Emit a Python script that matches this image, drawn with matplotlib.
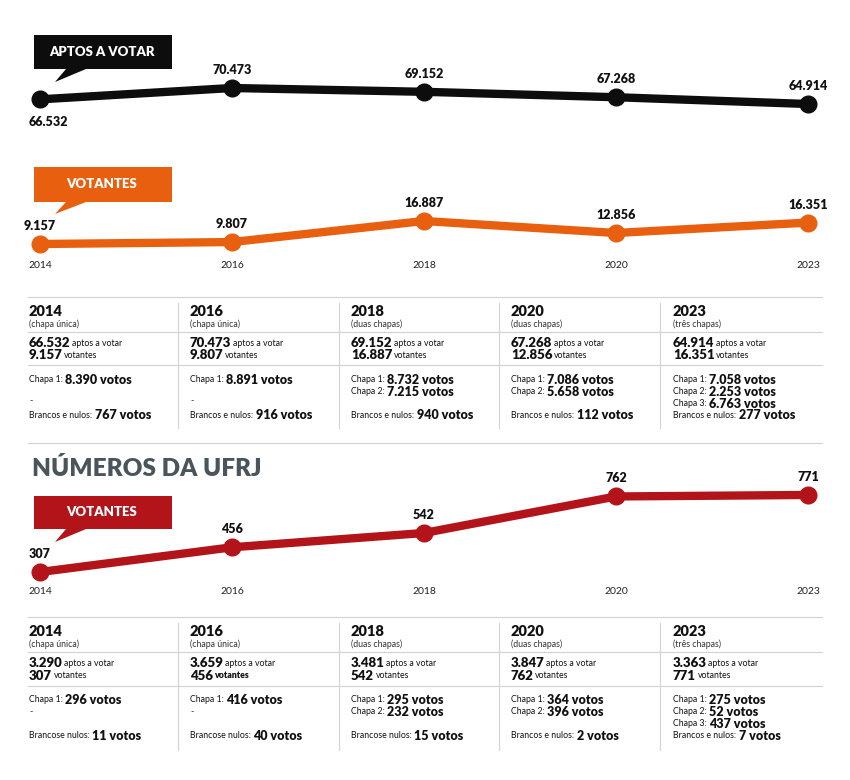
import matplotlib.pyplot as plt
from matplotlib.patches import Polygon

# === Data ===
years = ["2014", "2016", "2018", "2020", "2023"]
aptos = [66532, 70473, 69152, 67268, 64914]
votantes = [9157, 9807, 16887, 12856, 16351]
chapas_desc = ["(chapa única)", "(chapa única)", "(duas chapas)", "(duas chapas)", "(três chapas)"]
votos_chapas = [[8390], [8891], [8732, 7215], [7086, 5658], [7058, 2253, 6763]]
brancos_nulos = [767, 916, 940, 112, 277]

ufrj_aptos = [3290, 3659, 3481, 3847, 3363]
ufrj_votantes = [307, 456, 542, 762, 771]
ufrj_votos_chapas = [[296], [416], [295, 232], [364, 396], [275, 52, 437]]
ufrj_brancos_nulos = [11, 40, 15, 2, 7]
ufrj_brancos_label = ["Brancose nulos:", "Brancose nulos:", "Brancose nulos:",
                      "Brancos e nulos:", "Brancos e nulos:"]

# === Style ===
W, H = 850, 780
FONT = "Lato"
BLACK = "#0d0d0d"
ORANGE = "#e8600f"
RED = "#b3141a"
SLATE = "#4a555b"
GRID = "#d2d2d2"

plt.rcParams["font.family"] = [FONT, "DejaVu Sans"]

fig = plt.figure(figsize=(W / 100, H / 100), dpi=100)
ax0 = fig.add_axes([0, 0, 1, 1])
ax0.set_xlim(0, W)
ax0.set_ylim(H, 0)
ax0.axis("off")


def fmt(v):
    return f"{v:,}".replace(",", ".")


def px_axes(top, bottom, left=40, right=808):
    return fig.add_axes([left / W, 1 - bottom / H, (right - left) / W, (bottom - top) / H])


def line_chart(top, bottom, vmin, vmax, values, color, first_below=False, year_gap=None):
    ax = px_axes(top, bottom)
    x = list(range(len(values)))
    ax.plot(x, values, color=color, lw=6, marker="o", ms=12,
            solid_capstyle="round", clip_on=False, zorder=3)
    ax.set_xlim(0, len(values) - 1)
    ax.set_ylim(vmin, vmax)
    ax.axis("off")
    for i, v in enumerate(values):
        off = (6, -16) if (first_below and i == 0) else (0, 13)
        ax.annotate(fmt(v), (i, v), xytext=off, textcoords="offset points",
                    ha="center", va="center", fontsize=9, fontweight="heavy", color="#111")
    if year_gap is not None:
        for i, y in enumerate(years):
            ax.annotate(y, (i, 0), xycoords=ax.get_xaxis_transform(), xytext=(0, -year_gap),
                        textcoords="offset points", ha="center", va="center",
                        fontsize=7.5, color="#222")
    return ax


def callout(top, bottom, color, label, tip_y):
    pts = [(34, top), (172, top), (172, bottom), (86, bottom), (55, tip_y),
           (66, bottom), (34, bottom)]
    ax0.add_patch(Polygon(pts, closed=True, facecolor=color, edgecolor="none"))
    ax0.text(102, (top + bottom) / 2, label, ha="center", va="center",
             color="white", fontsize=9.5, fontweight="heavy")


def pair(x, y, first, second, bold_first, size_b=9, size_r=6.3, gap=2.5, second_bold=False):
    renderer = fig.canvas.get_renderer()
    w1 = "heavy" if bold_first else "normal"
    s1 = size_b if bold_first else size_r
    t1 = ax0.text(x, y, first, ha="left", va="center", fontsize=s1, fontweight=w1, color="#111")
    bb = t1.get_window_extent(renderer)
    x2 = ax0.transData.inverted().transform((bb.x1, bb.y0))[0] + gap
    w2 = "normal" if bold_first and not second_bold else "heavy"
    s2 = size_r if bold_first else size_b
    ax0.text(x2, y, second, ha="left", va="center", fontsize=s2, fontweight=w2, color="#111")


def table(rows, hlines, vspan, apt, vot, chapas, brancos, brancos_lbl, vot_bold=None):
    col_x = [29, 190, 351, 511, 673]
    for y in hlines:
        ax0.plot([28, 822], [y, y], color=GRID, lw=0.8)
    for x in [178, 339, 499, 660]:
        ax0.plot([x, x], vspan, color=GRID, lw=0.8)
    for i, x in enumerate(col_x):
        ax0.text(x, rows["year"], years[i], ha="left", va="center",
                 fontsize=10.5, fontweight="heavy", color="#111")
        ax0.text(x, rows["sub"], chapas_desc[i], ha="left", va="center",
                 fontsize=6.3, color="#333")
        pair(x, rows["aptos"], fmt(apt[i]), "aptos a votar", True, size_b=9.5, gap=1.5)
        sb = bool(vot_bold and vot_bold[i])
        pair(x, rows["vot"], fmt(vot[i]), "votantes", True, size_b=9.5, gap=1.5, second_bold=sb)
        for k, c in enumerate(chapas[i]):
            pair(x, rows["chapa"] + k * rows["step"], f"Chapa {k + 1}:", f"{fmt(c)} votos", False)
        if len(chapas[i]) == 1:
            ax0.text(x, rows["dash"], "-", ha="left", va="center", fontsize=6.5, color="#333")
        pair(x, rows["brancos"], brancos_lbl[i], f"{fmt(brancos[i])} votos", False)


# === Top section: aptos / votantes ===
callout(35, 69, BLACK, "APTOS A VOTAR", 82)
line_chart(80, 112, 62134, 73253, aptos, BLACK, first_below=True)

callout(167, 202, ORANGE, "VOTANTES", 214)
line_chart(213, 252, 6468, 19576, votantes, ORANGE, year_gap=9.4)

table({"year": 311, "sub": 324, "aptos": 343, "vot": 355, "chapa": 380, "step": 11.8,
       "dash": 401, "brancos": 415},
      [297, 332, 365], [303, 428], aptos, votantes, votos_chapas, brancos_nulos,
      ["Brancos e nulos:"] * 5)

ax0.plot([28, 822], [443, 443], color=GRID, lw=0.8)

# === UFRJ section ===
ax0.text(32, 468, "NÚMEROS DA UFRJ", ha="left", va="center", fontsize=17.5,
         fontweight="heavy", color=SLATE)
callout(496, 529, RED, "VOTANTES", 542)
line_chart(487, 580, 259, 819, ufrj_votantes, RED, year_gap=8.6)

table({"year": 631, "sub": 644, "aptos": 663, "vot": 676, "chapa": 700, "step": 12,
       "dash": 712, "brancos": 736},
      [617, 652, 686], [623, 750], ufrj_aptos, ufrj_votantes, ufrj_votos_chapas,
      ufrj_brancos_nulos, ufrj_brancos_label, vot_bold=[False, True, False, False, False])

fig.savefig("out.png", dpi=100, facecolor="white")
